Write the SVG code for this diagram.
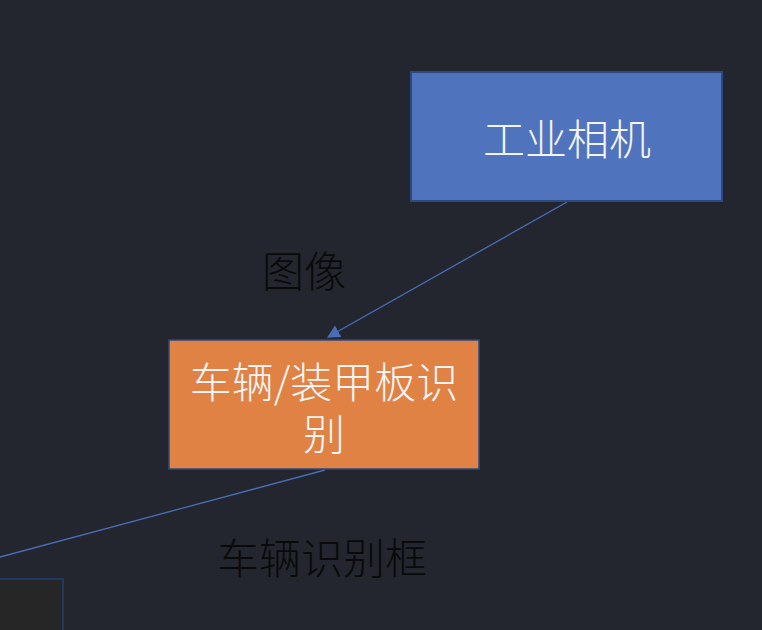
<svg xmlns="http://www.w3.org/2000/svg" width="762" height="630" viewBox="0 0 762 630">
  <defs>
    <style>
      .node-text { font-family: "Noto Sans CJK SC", "Liberation Sans", sans-serif; font-size: 42px; fill: #f4f4f4; text-anchor: middle; dominant-baseline: central; font-weight: 300; }
      .edge-label { font-family: "Noto Sans CJK SC", "Liberation Sans", sans-serif; font-size: 42px; fill: #0a0a0a; text-anchor: middle; dominant-baseline: central; font-weight: 300; }
      .edge { stroke: #4a6db5; stroke-width: 1.3; fill: none; }
    </style>
    <marker id="arrow" viewBox="0 0 10 10" refX="9" refY="5" markerWidth="13" markerHeight="13" markerUnits="userSpaceOnUse" orient="auto">
      <path d="M0,0 L10,5 L0,10 z" fill="#4a6db5"/>
    </marker>
  </defs>

  <rect x="0" y="0" width="762" height="630" fill="#23262e"/>

  <g id="connectors">
    <line class="edge" x1="567" y1="202" x2="328" y2="337" marker-end="url(#arrow)"/>
    <line class="edge" x1="325" y1="470" x2="0" y2="557"/>
  </g>

  <g id="camera">
    <rect x="411" y="72" width="311" height="129" fill="#5073be" stroke="#2c4a80" stroke-width="2"/>
    <text class="node-text" x="567" y="136">工业相机</text>
  </g>

  <g id="detector">
    <rect x="169" y="340" width="310" height="129" fill="#e08244" stroke="#2c4a80" stroke-width="1.5"/>
    <text class="node-text" x="324" y="379">车辆/装甲板识<tspan x="324" dy="52">别</tspan></text>
  </g>

  <g id="output-node">
    <rect x="-10" y="579" width="73" height="60" fill="#262626" stroke="#1f3864" stroke-width="2"/>
  </g>

  <g id="labels">
    <text class="edge-label" x="304" y="268">图像</text>
    <text class="edge-label" x="322" y="555">车辆识别框</text>
  </g>
</svg>
